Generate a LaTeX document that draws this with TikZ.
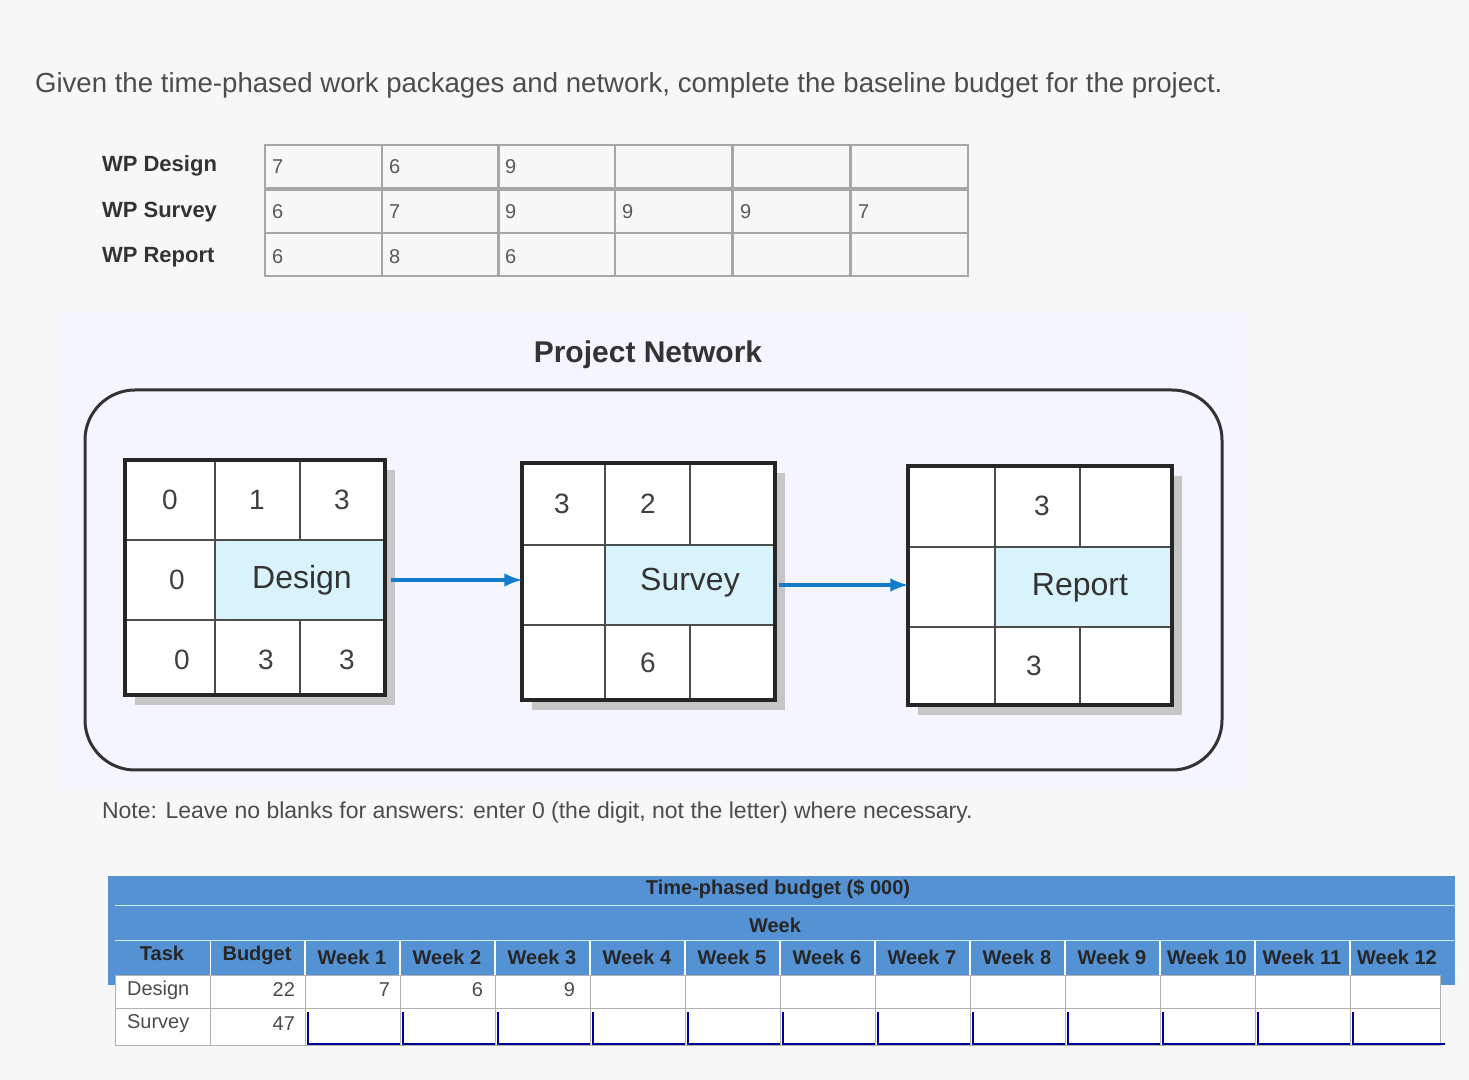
\documentclass[tikz,border=0pt]{standalone}
\usepackage{fontspec}
\setmainfont{Liberation Sans}
\begin{document}
\begin{tikzpicture}[x=0.5pt,y=-0.5pt,
  wpcell/.style={draw=gray!70,line width=0.6pt},
  wpnum/.style={anchor=west,font=\fontsize{10}{12}\selectfont,text=gray!70!black},
  wplab/.style={anchor=west,font=\bfseries\fontsize{11}{13}\selectfont,text=black!80},
  netnum/.style={font=\fontsize{14}{16}\selectfont,text=black!75},
  netlab/.style={font=\fontsize{16}{18}\selectfont,text=black!80},
  arr/.style={draw=cyan!60!blue,line width=2pt,-latex},
  hdr/.style={font=\bfseries\fontsize{10}{12}\selectfont,text=black!85},
  cellt/.style={font=\fontsize{10}{12}\selectfont,text=black!70}]
\useasboundingbox (0,0) rectangle (1469,1080);
\fill[gray!6] (0,0) rectangle (1469,1080);
\node[anchor=west,font=\fontsize{13.8}{16}\selectfont,text=black!70] (title) at (28,85) {Given the time-phased work packages and network, complete the baseline budget for the project.};
% WP table
\foreach \l/\y/\t in {d/166/WP Design,s/212/WP Survey,r/257/WP Report}
  \node[wplab] (wp\l) at (95,\y) {\t};
\foreach \x in {265,382,498,615,733,851}
  \foreach \y in {145,190,233}
    \draw[wpcell] (\x,\y) rectangle ++(117,43);
\foreach \x/\v in {265/7,382/6,498/9} \node[wpnum] at (\x,167) {\v};
\foreach \x/\v in {265/6,382/7,498/9,615/9,733/9,851/7} \node[wpnum] at (\x,212) {\v};
\foreach \x/\v in {265/6,382/8,498/6} \node[wpnum] at (\x,257) {\v};
% network panel
\fill[blue!4] (55,312) rectangle (1245,790);
\node[font=\bfseries\fontsize{15}{17}\selectfont,text=black!80] (pn) at (648,355) {Project Network};
\draw[black!80,line width=1.5pt,rounded corners=25pt] (85,390) rectangle (1222,770);
% boxes
\foreach \n/\xa/\xb/\xc/\xd/\ya/\yb/\yc/\yd in {d/125/215/300/385/460/540/620/695, s/522/605/690/775/463/545/625/700, r/908/995/1080/1172/466/547/627/705}{
  \fill[gray!45] (\xa+10,\ya+10) rectangle (\xd+10,\yd+10);
  \fill[white] (\xa,\ya) rectangle (\xd,\yd);
  \fill[cyan!15] (\xb,\yb) rectangle (\xd,\yc);
  \draw[black!70,line width=0.8pt] (\xb,\ya)--(\xb,\yd) (\xc,\ya)--(\xc,\yb) (\xc,\yc)--(\xc,\yd) (\xa,\yb)--(\xd,\yb) (\xa,\yc)--(\xd,\yc);
  \draw[black!85,line width=2pt] (\xa,\ya) rectangle (\xd,\yd);
  \coordinate (\n w) at (\xa,\yb/2+\yc/2);
  \coordinate (\n e) at (\xd,\yb/2+\yc/2);
}
\node[netnum] at (170,500) {0}; \node[netnum] at (257,500) {1}; \node[netnum] at (342,500) {3};
\node[netnum] at (177,580) {0}; \node[netlab] at (302,580) {Design};
\node[netnum] at (182,660) {0}; \node[netnum] at (266,660) {3}; \node[netnum] at (347,660) {3};
\node[netnum] at (562,504) {3}; \node[netnum] at (648,504) {2};
\node[netlab] at (690,583) {Survey}; \node[netnum] at (648,663) {6};
\node[netnum] at (1042,506) {3}; \node[netlab] at (1080,588) {Report}; \node[netnum] at (1034,666) {3};
\draw[arr] ([xshift=3pt]de) -- (de -| sw);
\draw[arr] ([xshift=2pt]se) -- (se -| rw);
\node[anchor=west,font=\fontsize{11.5}{13}\selectfont,text=black!70] (note) at (95,813) {Note: Leave no blanks for answers: enter 0 (the digit, not the letter) where necessary.};
% budget table
\fill[cyan!55!blue!70] (108,876) rectangle (1455,985);
\fill[white] (115,975) rectangle (1440,1045);
\node[hdr] (tpb) at (778,889) {Time-phased budget (\$ 000)};
\node[hdr] (wk) at (775,925) {Week};
\draw[white!80!cyan,line width=0.5pt] (115,905)--(1455,905) (115,940)--(1455,940);
\node[hdr] at (162,953) {Task};
\node[hdr] at (257,955) {Budget};
\foreach \i in {1,...,12}{
  \pgfmathsetmacro\xx{305+95*(\i-1)}
  \draw[white,line width=0.6pt] (\xx,940) -- (\xx,985);
  \node[hdr] at (\xx+47,957) {Week \i};
  \draw[gray!60] (\xx,975) -- (\xx,1045);
}
\draw[white] (210,940)--(210,985);
\draw[gray!60] (115,975) rectangle (1440,1045) (115,1008)--(1440,1008) (210,975)--(210,1045);
\node[cellt,anchor=west] at (120,990) {Design};
\node[cellt,anchor=west] at (120,1024) {Survey};
\node[cellt,anchor=east] at (302,990) {22};
\node[cellt,anchor=east] at (302,1024) {47};
\node[cellt,anchor=east] at (397,990) {7};
\node[cellt,anchor=east] at (490,990) {6};
\node[cellt,anchor=east] at (582,990) {9};
\foreach \i in {1,...,12}{
  \pgfmathsetmacro\xx{305+95*(\i-1)}
  \draw[blue!60!black,line width=1.2pt] (\xx+3,1012) -- (\xx+3,1044) -- (\xx+95,1044);
}
\end{tikzpicture}
\end{document}
